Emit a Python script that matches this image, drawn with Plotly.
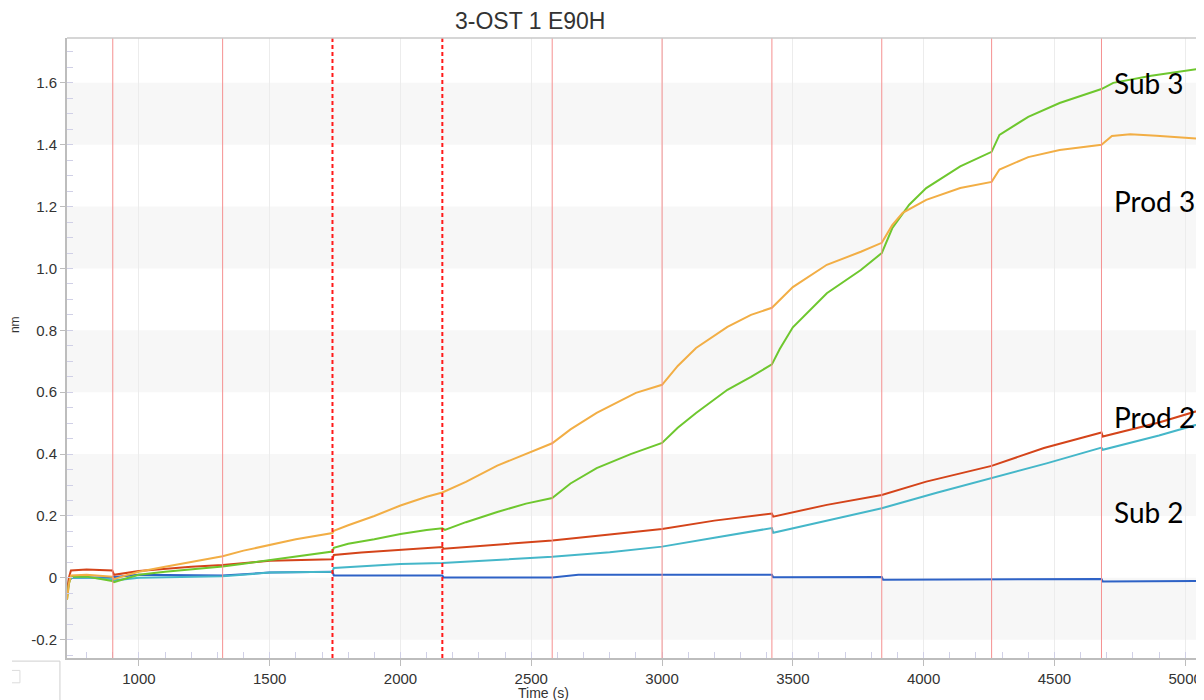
import plotly.graph_objects as go

# ---- data ----
prod3_t = [725, 732, 740, 800, 898, 905, 950, 1000, 1100, 1200, 1320, 1400, 1500, 1600, 1740, 1745, 1800, 1900, 2000, 2100, 2160, 2250, 2370, 2480, 2580, 2650, 2750, 2900, 3000, 3060, 3130, 3250, 3340, 3420, 3500, 3630, 3760, 3840, 3880, 3920, 4010, 4140, 4260, 4290, 4400, 4520, 4680, 4720, 4790, 4890, 5000, 5072]
prod3_v = [-0.07, -0.02, 0.008, 0.01, 0.004, -0.004, 0.008, 0.02, 0.036, 0.052, 0.07, 0.088, 0.107, 0.125, 0.145, 0.152, 0.17, 0.2, 0.234, 0.262, 0.276, 0.31, 0.363, 0.4, 0.435, 0.48, 0.533, 0.598, 0.624, 0.685, 0.743, 0.811, 0.85, 0.873, 0.94, 1.012, 1.054, 1.083, 1.14, 1.18, 1.222, 1.26, 1.28, 1.32, 1.36, 1.383, 1.4, 1.428, 1.434, 1.429, 1.422, 1.418]

sub3_t = [725, 732, 740, 800, 898, 905, 950, 1000, 1100, 1200, 1320, 1400, 1500, 1600, 1740, 1745, 1800, 1900, 2000, 2100, 2160, 2170, 2250, 2370, 2480, 2580, 2650, 2750, 2880, 3000, 3060, 3130, 3250, 3340, 3420, 3450, 3500, 3630, 3760, 3840, 3880, 3945, 4010, 4140, 4260, 4290, 4400, 4520, 4680, 4725, 4870, 5072]
sub3_v = [-0.07, -0.02, 0.004, 0.004, -0.01, -0.014, -0.002, 0.01, 0.02, 0.028, 0.037, 0.046, 0.058, 0.07, 0.085, 0.097, 0.11, 0.125, 0.142, 0.155, 0.16, 0.155, 0.18, 0.213, 0.24, 0.258, 0.305, 0.355, 0.4, 0.436, 0.485, 0.533, 0.608, 0.65, 0.69, 0.74, 0.81, 0.92, 0.995, 1.05, 1.13, 1.206, 1.26, 1.33, 1.377, 1.432, 1.49, 1.535, 1.58, 1.6, 1.623, 1.648]

prod2_t = [725, 732, 740, 800, 898, 905, 1000, 1100, 1200, 1320, 1500, 1740, 1745, 1850, 2000, 2160, 2165, 2370, 2580, 2800, 3000, 3200, 3420, 3425, 3630, 3840, 4010, 4260, 4460, 4680, 4685, 4900, 5072]
prod2_v = [-0.05, 0.0, 0.024, 0.027, 0.024, 0.01, 0.022, 0.03, 0.036, 0.042, 0.055, 0.06, 0.074, 0.082, 0.09, 0.1, 0.094, 0.108, 0.121, 0.14, 0.158, 0.185, 0.208, 0.198, 0.236, 0.268, 0.311, 0.362, 0.42, 0.47, 0.457, 0.502, 0.546]

sub2_t = [725, 732, 740, 800, 898, 905, 1000, 1320, 1500, 1740, 1745, 2000, 2160, 2370, 2580, 2800, 3000, 3200, 3420, 3425, 3630, 3840, 4050, 4260, 4470, 4680, 4685, 4900, 5072]
sub2_v = [-0.06, -0.01, 0.0, 0.001, -0.004, -0.008, 0.0, 0.005, 0.017, 0.02, 0.032, 0.045, 0.048, 0.057, 0.068, 0.083, 0.101, 0.13, 0.161, 0.146, 0.185, 0.225, 0.275, 0.322, 0.37, 0.421, 0.414, 0.46, 0.502]

base_t = [725, 735, 745, 898, 1000, 1320, 1500, 1740, 1745, 2160, 2165, 2580, 2680, 3000, 3420, 3425, 3840, 3845, 4260, 4680, 4685, 5072]
base_v = [-0.05, -0.005, 0.0, 0.002, 0.01, 0.008, 0.017, 0.02, 0.008, 0.008, 0.001, 0.001, 0.01, 0.01, 0.01, 0.002, 0.003, -0.006, -0.004, -0.004, -0.012, -0.01]

step_times = [900, 1320, 1740, 2160, 2580, 3000, 3420, 3840, 4260, 4680]
step_dashed = [False, False, True, True, False, False, False, False, False, False]

y_tick_vals = [-0.2, 0, 0.2, 0.4, 0.6, 0.8, 1.0, 1.2, 1.4, 1.6]
y_tick_text = ["-0.2", "0", "0.2", "0.4", "0.6", "0.8", "1.0", "1.2", "1.4", "1.6"]
x_tick_vals = [1000, 1500, 2000, 2500, 3000, 3500, 4000, 4500, 5000]

band_lows = [-0.2, 0.2, 0.6, 1.0, 1.4]

labels = ["Sub 3", "Prod 3", "Prod 2", "Sub 2"]
label_y = [1.6, 1.218, 0.52, 0.213]

# ---- figure ----
fig = go.Figure()
series = [
    (base_t, base_v, "#2E62C6"),
    (sub2_t, sub2_v, "#45B7C9"),
    (prod2_t, prod2_v, "#D4441A"),
    (sub3_t, sub3_v, "#6EC72E"),
    (prod3_t, prod3_v, "#F2AE45"),
]
for t, v, c in series:
    fig.add_trace(go.Scatter(x=t, y=v, mode="lines", line=dict(color=c, width=2), showlegend=False, hoverinfo="skip"))

shapes = []
for lo in band_lows:
    shapes.append(dict(type="rect", xref="paper", yref="y", x0=0, x1=1, y0=lo, y1=lo + 0.2,
                       fillcolor="#f7f7f7", line=dict(width=0), layer="below"))
for st, d in zip(step_times, step_dashed):
    if d:
        shapes.append(dict(type="line", xref="x", yref="paper", x0=st, x1=st, y0=0, y1=1,
                           line=dict(color="#ff1a1a", width=2, dash="4px,3px")))
    else:
        shapes.append(dict(type="line", xref="x", yref="paper", x0=st, x1=st, y0=0, y1=1,
                           line=dict(color="#f59090", width=1)))
# top frame line
shapes.append(dict(type="line", xref="paper", yref="paper", x0=0, x1=1, y0=1, y1=1,
                   line=dict(color="#c8c8c8", width=1.5)))
# small artifact at the bottom-left corner
shapes.append(dict(type="line", xref="paper", yref="paper", x0=-0.0484, x1=-0.0062, y0=-0.005, y1=-0.005,
                   line=dict(color="#cfcfcf", width=1)))
shapes.append(dict(type="line", xref="paper", yref="paper", x0=-0.0062, x1=-0.0062, y0=-0.005, y1=-0.07,
                   line=dict(color="#cfcfcf", width=1)))
shapes.append(dict(type="path", xref="paper", yref="paper",
                   path="M -0.0484 -0.02 L -0.0414 -0.02 L -0.0414 -0.04 L -0.0484 -0.04",
                   line=dict(color="#dcdcdc", width=1)))

annotations = [
    dict(text="3-OST 1 E90H", xref="paper", yref="paper", x=0.407, y=1.027, showarrow=False,
         font=dict(family="Liberation Sans, Arial", size=23, color="#333333"), xanchor="center", yanchor="middle"),
    dict(text="nm", xref="paper", yref="paper", x=-0.0457, y=0.537, showarrow=False, textangle=-90,
         font=dict(family="Liberation Sans, Arial", size=12, color="#333333"), xanchor="center", yanchor="middle"),
    dict(text="Time (s)", xref="paper", yref="paper", x=0.4195, y=-0.056, showarrow=False,
         font=dict(family="Liberation Sans, Arial", size=14, color="#333333"), xanchor="center", yanchor="middle"),
]
for lab, yv in zip(labels, label_y):
    annotations.append(dict(text=lab, xref="paper", yref="y", x=0.919, y=yv, showarrow=False,
                            xanchor="left", yanchor="middle",
                            font=dict(family="Lato, Noto Sans", size=28, color="#000000")))

# The page body adds an 8px margin, so the figure is sized/placed to compensate.
fig.update_layout(
    width=1196, height=692,
    margin=dict(l=59, r=0, t=30, b=42),
    paper_bgcolor="white", plot_bgcolor="white",
    shapes=shapes, annotations=annotations,
    showlegend=False,
    xaxis=dict(range=[725, 5072], tickvals=x_tick_vals, showgrid=True, gridcolor="#ececec", gridwidth=1,
               zeroline=False, showline=True, linecolor="#bdbdbd", linewidth=2,
               ticks="outside", ticklen=6, tickcolor="#bdbdbd",
               minor=dict(ticks="inside", dtick=100, tick0=0, ticklen=6, tickcolor="#d0d0e6", showgrid=False),
               tickfont=dict(family="Liberation Sans, Arial", size=15, color="#333333")),
    yaxis=dict(range=[-0.259, 1.745], tickvals=y_tick_vals, ticktext=y_tick_text, showgrid=False,
               zeroline=False, showline=True, linecolor="#bdbdbd", linewidth=2,
               ticks="outside", ticklen=5, tickcolor="#bdbdbd",
               minor=dict(ticks="inside", dtick=0.05, tick0=0, ticklen=6, tickcolor="#d0d0e6", showgrid=False),
               tickfont=dict(family="Liberation Sans, Arial", size=15, color="#333333")),
)

fig.write_html("out.html")
